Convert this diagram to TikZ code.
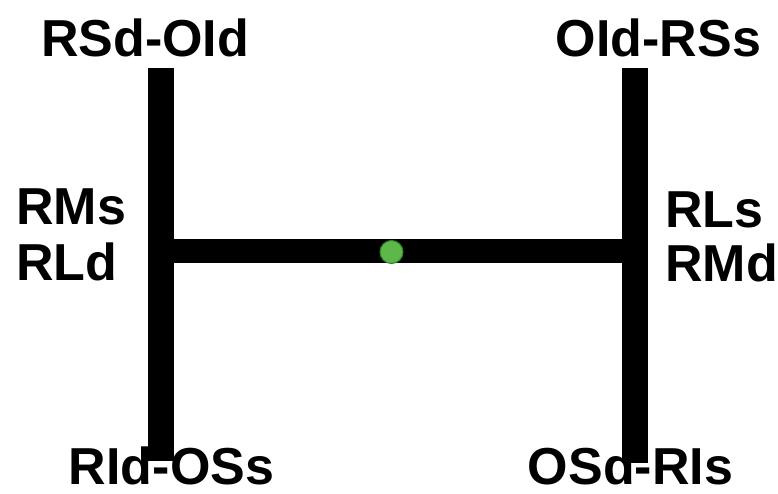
\documentclass[tikz,border=0pt]{standalone}
\usepackage{fontspec}
\setmainfont{Liberation Sans}
\definecolor{dotgreen}{RGB}{92,184,72}
\definecolor{dotedge}{RGB}{55,125,45}
\begin{document}
\begin{tikzpicture}[x=1pt,y=1pt,
  lbl/.style={inner sep=0pt,text depth=0pt,font=\fontsize{52}{52}\selectfont\bfseries},
  bar/.style={line width=26pt,line cap=butt,black},
  hbar/.style={line width=24pt,line cap=butt,black}]
\useasboundingbox[fill=white] (0,0) rectangle (778,-494);
% bar end points
\coordinate (LT) at (161,-68);
\coordinate (LB) at (161,-461);
\coordinate (RT) at (635,-68);
\coordinate (RB) at (635,-463);
\coordinate (LM) at (161,-251);
\coordinate (RM) at (635,-251);
\draw[bar] (LT) -- (LB);
\draw[bar] (RT) -- (RB);
\draw[hbar] (LM) -- (RM);
\node[circle,fill=dotgreen,draw=dotedge,line width=1pt,minimum size=23pt,inner sep=0pt] (dot) at (391.5,-252) {};
% labels
\node[lbl,anchor=base] (tl) at (145,-57) {RSd-OId};
\node[lbl,anchor=base] (tr) at (658.5,-57) {OId-RSs};
\node[lbl,anchor=base west] (l1) at (16,-225) {RMs};
\node[lbl,anchor=base west] (l2) at (16,-280) {RLd};
\node[lbl,anchor=base west] (r1) at (665,-227) {RLs};
\node[lbl,anchor=base west] (r2) at (665,-281) {RMd};
\node[lbl,anchor=base] (bl) at (171.5,-484) {RId-OSs};
\node[lbl,anchor=base] (br) at (630.5,-484) {OSd-RIs};
\end{tikzpicture}
\end{document}
